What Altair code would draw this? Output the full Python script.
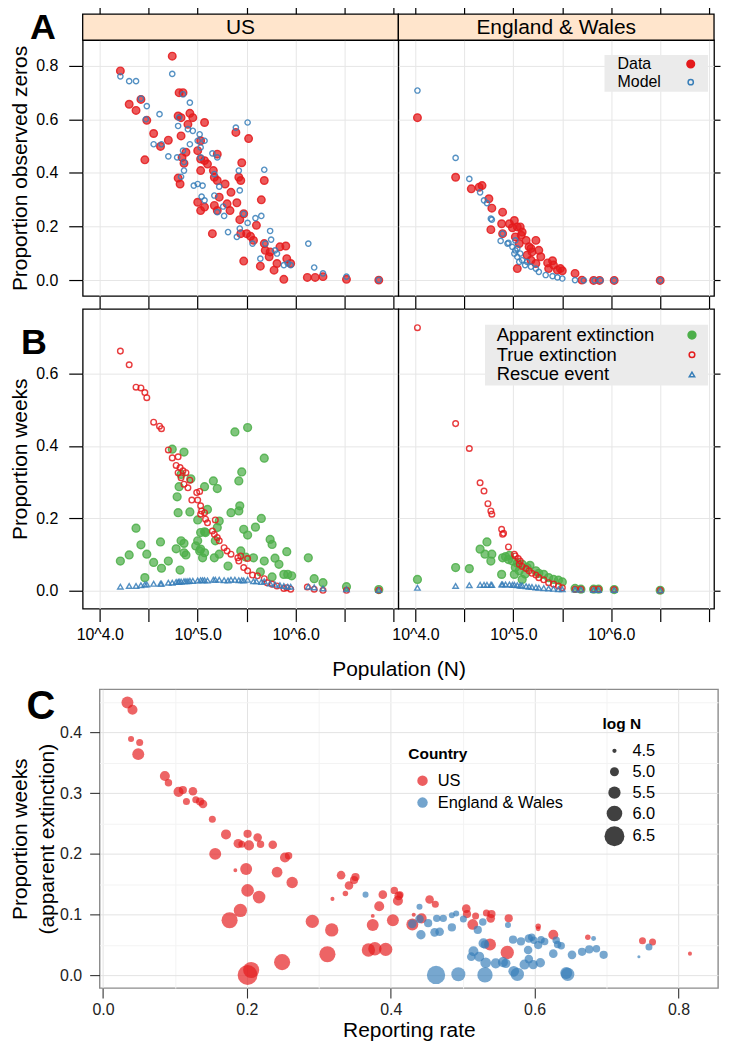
import altair as alt
import pandas as pd

FONT = "Liberation Sans"
RED, BLUE, GREEN = "#E41A1C", "#377EB8", "#4DAF4A"
STRIP_FILL = "#FFE5CC"
GRID = "#E6E6E6"

countries = ["US", "England & Wales"]
series_a = ["Data", "Model"]
series_b = ["Apparent extinction", "True extinction", "Rescue event"]
x_ticks = [4.0, 4.5, 5.0, 5.5, 6.0, 6.5, 7.0]
ya_ticks = [0.0, 0.2, 0.4, 0.6, 0.8]
yb_ticks = [0.0, 0.2, 0.4, 0.6]

# ---------------- Panel A : (log10 N, proportion observed zeros) ----------------
a_us_data = [
    (4.21, 0.780), (4.74, 0.835), (4.30, 0.656), (4.37, 0.633), (4.42, 0.674), (4.48, 0.596), (4.46, 0.449),
    (4.55, 0.547), (4.62, 0.499), (4.70, 0.522), (4.81, 0.699), (4.85, 0.699), (4.80, 0.612), (4.83, 0.606),
    (4.90, 0.581), (4.83, 0.538), (4.88, 0.477), (4.84, 0.458), (4.86, 0.436), (4.80, 0.381), (4.82, 0.359),
    (4.92, 0.622), (4.95, 0.606), (5.07, 0.588), (5.00, 0.483), (5.03, 0.452), (5.03, 0.409), (5.07, 0.446),
    (5.10, 0.433), (5.03, 0.520), (5.00, 0.291), (5.03, 0.260), (5.07, 0.273), (5.16, 0.409), (5.17, 0.384),
    (5.20, 0.372), (5.20, 0.470), (5.22, 0.310), (5.17, 0.279), (5.20, 0.260), (5.28, 0.359), (5.34, 0.328),
    (5.30, 0.285), (5.33, 0.260), (5.15, 0.174), (5.39, 0.551), (5.52, 0.528), (5.45, 0.438), (5.42, 0.384),
    (5.44, 0.372), (5.40, 0.289), (5.43, 0.226), (5.47, 0.248), (5.44, 0.174), (5.50, 0.174), (5.47, 0.072),
    (5.54, 0.164), (5.57, 0.149), (5.60, 0.205), (5.68, 0.372), (5.65, 0.300), (5.68, 0.137), (5.69, 0.112),
    (5.74, 0.106), (5.73, 0.088), (5.81, 0.063), (5.84, 0.125), (5.90, 0.128), (5.91, 0.081), (5.95, 0.063),
    (5.78, 0.038), (5.64, 0.053), (5.88, 0.004), (6.12, 0.011), (6.20, 0.011), (6.28, 0.014), (6.52, 0.004),
    (6.85, 0.001),
]
a_us_model = [
    (4.21, 0.760), (4.30, 0.742), (4.37, 0.742), (4.42, 0.677), (4.48, 0.649), (4.47, 0.600), (4.61, 0.619),
    (4.55, 0.507), (4.63, 0.507), (4.70, 0.462), (4.74, 0.769), (4.79, 0.458), (4.81, 0.606), (4.80, 0.575),
    (4.85, 0.693), (4.86, 0.409), (4.83, 0.386), (4.85, 0.483), (4.86, 0.440), (4.90, 0.563), (4.92, 0.662),
    (4.95, 0.557), (4.92, 0.507), (4.96, 0.353), (5.00, 0.520), (5.02, 0.544), (5.03, 0.495), (5.03, 0.458),
    (5.00, 0.359), (5.05, 0.353), (5.07, 0.520), (5.04, 0.312), (5.07, 0.298), (5.15, 0.473), (5.20, 0.458),
    (5.17, 0.396), (5.22, 0.349), (5.17, 0.316), (5.26, 0.275), (5.20, 0.254), (5.27, 0.240), (5.31, 0.180),
    (5.39, 0.569), (5.51, 0.588), (5.40, 0.162), (5.42, 0.409), (5.43, 0.335), (5.43, 0.193), (5.47, 0.248),
    (5.51, 0.214), (5.56, 0.137), (5.59, 0.232), (5.65, 0.240), (5.68, 0.412), (5.64, 0.081), (5.69, 0.137),
    (5.74, 0.184), (5.75, 0.152), (5.79, 0.112), (5.81, 0.100), (5.88, 0.057), (5.92, 0.063), (5.95, 0.057),
    (6.13, 0.137), (6.19, 0.048), (6.28, 0.026), (6.52, 0.014), (6.85, 0.002),
]
a_ew_data = [
    (4.02, 0.606), (4.41, 0.384), (4.57, 0.341), (4.65, 0.347), (4.68, 0.353), (4.75, 0.304), (4.78, 0.269),
    (4.89, 0.254), (4.77, 0.189), (4.88, 0.211), (5.01, 0.223), (5.04, 0.199), (4.99, 0.196), (5.07, 0.199),
    (4.89, 0.174), (5.02, 0.162), (5.08, 0.168), (5.06, 0.137), (5.16, 0.125), (5.19, 0.106), (5.14, 0.094),
    (5.26, 0.112), (5.18, 0.075), (5.23, 0.063), (5.35, 0.065), (5.40, 0.073), (5.04, 0.044), (5.45, 0.038),
    (5.50, 0.036), (5.63, 0.026), (5.70, 0.001), (5.82, 0.000), (5.88, 0.000), (6.03, 0.000), (6.50, 0.000),
    (5.13, 0.149), (5.23, 0.149), (5.18, 0.119), (5.09, 0.180), (4.96, 0.211), (5.28, 0.088), (5.36, 0.044),
    (5.41, 0.057), (5.48, 0.044),
]
a_ew_model = [
    (4.02, 0.707), (4.41, 0.456), (4.55, 0.378), (4.66, 0.328), (4.70, 0.298), (4.73, 0.288), (4.77, 0.230),
    (4.78, 0.226), (4.89, 0.174), (4.87, 0.147), (4.95, 0.140), (4.94, 0.137), (4.99, 0.125), (5.02, 0.112),
    (5.01, 0.100), (5.04, 0.088), (5.07, 0.100), (5.09, 0.075), (5.14, 0.069), (5.18, 0.051), (5.23, 0.044),
    (5.26, 0.032), (5.33, 0.020), (5.40, 0.016), (5.45, 0.011), (5.50, 0.007), (5.63, 0.001), (5.72, 0.000),
    (5.83, 0.000), (5.89, 0.000), (6.03, 0.000), (6.50, 0.000), (5.02, 0.149), (5.06, 0.069), (5.12, 0.057),
    (5.04, 0.119),
]

# ---------------- Panel B : (log10 N, proportion weeks) ----------------
b_us_apparent = [
    (4.21, 0.081), (4.30, 0.098), (4.37, 0.172), (4.42, 0.126), (4.48, 0.100), (4.46, 0.035), (4.55, 0.077),
    (4.62, 0.134), (4.63, 0.061), (4.70, 0.081), (4.74, 0.391), (4.86, 0.383), (4.83, 0.321), (4.93, 0.309),
    (4.79, 0.259), (4.81, 0.287), (4.80, 0.215), (4.92, 0.217), (4.83, 0.137), (4.86, 0.130), (4.78, 0.115),
    (4.86, 0.104), (4.88, 0.098), (4.82, 0.056), (5.00, 0.137), (4.98, 0.123), (5.02, 0.109), (5.03, 0.114),
    (5.05, 0.090), (5.07, 0.104), (5.07, 0.287), (5.03, 0.160), (5.07, 0.162), (5.00, 0.195), (5.10, 0.224),
    (5.08, 0.160), (5.16, 0.303), (5.20, 0.282), (5.20, 0.174), (5.22, 0.192), (5.18, 0.137), (5.17, 0.090),
    (5.22, 0.100), (5.31, 0.067), (5.34, 0.215), (5.38, 0.439), (5.51, 0.451), (5.42, 0.303), (5.45, 0.328),
    (5.43, 0.234), (5.42, 0.220), (5.47, 0.169), (5.51, 0.153), (5.44, 0.109), (5.49, 0.092), (5.57, 0.090),
    (5.59, 0.175), (5.65, 0.199), (5.68, 0.366), (5.68, 0.081), (5.74, 0.141), (5.76, 0.127), (5.79, 0.089),
    (5.83, 0.072), (5.64, 0.051), (5.76, 0.037), (5.91, 0.107), (5.88, 0.044), (5.92, 0.044), (5.96, 0.040),
    (6.13, 0.090), (6.19, 0.032), (6.28, 0.021), (6.52, 0.010), (6.85, 0.002),
]
b_us_true = [
    (4.21, 0.663), (4.30, 0.625), (4.37, 0.563), (4.42, 0.561), (4.46, 0.548), (4.48, 0.534), (4.55, 0.466),
    (4.61, 0.455), (4.63, 0.448), (4.70, 0.389), (4.74, 0.367), (4.80, 0.370), (4.78, 0.346), (4.82, 0.340),
    (4.80, 0.326), (4.85, 0.331), (4.88, 0.326), (4.83, 0.312), (4.86, 0.294), (4.90, 0.284), (4.92, 0.305),
    (4.99, 0.271), (5.02, 0.274), (4.94, 0.250), (5.00, 0.250), (5.03, 0.234), (5.04, 0.220), (5.07, 0.215),
    (5.03, 0.211), (5.08, 0.197), (5.18, 0.195), (5.10, 0.187), (5.15, 0.164), (5.17, 0.155), (5.20, 0.146),
    (5.22, 0.137), (5.27, 0.118), (5.30, 0.109), (5.34, 0.100), (5.41, 0.090), (5.44, 0.095), (5.51, 0.088),
    (5.42, 0.081), (5.47, 0.063), (5.51, 0.054), (5.56, 0.042), (5.61, 0.040), (5.68, 0.032), (5.71, 0.021),
    (5.76, 0.017), (5.81, 0.012), (5.88, 0.005), (5.91, 0.007), (5.95, 0.003), (6.12, 0.009), (6.19, 0.003),
    (6.28, 0.000), (6.52, 0.000), (6.85, 0.000),
]
b_us_rescue = [
    (4.21, 0.010), (4.30, 0.012), (4.37, 0.012), (4.42, 0.014), (4.46, 0.016), (4.48, 0.016), (4.55, 0.018),
    (4.62, 0.018), (4.63, 0.018), (4.70, 0.021), (4.74, 0.021), (4.78, 0.023), (4.80, 0.023), (4.81, 0.024),
    (4.83, 0.024), (4.86, 0.025), (4.88, 0.025), (4.90, 0.025), (4.92, 0.026), (4.95, 0.026), (5.00, 0.027),
    (5.03, 0.028), (5.05, 0.028), (5.07, 0.028), (5.10, 0.027), (5.16, 0.029), (5.18, 0.029), (5.22, 0.029),
    (5.27, 0.028), (5.31, 0.027), (5.34, 0.029), (5.38, 0.029), (5.42, 0.028), (5.45, 0.028), (5.47, 0.027),
    (5.51, 0.029), (5.57, 0.025), (5.60, 0.025), (5.65, 0.023), (5.68, 0.025), (5.74, 0.019), (5.79, 0.016),
    (5.84, 0.014), (5.88, 0.012), (5.92, 0.010), (5.95, 0.010), (6.13, 0.010), (6.19, 0.008), (6.28, 0.005),
    (6.52, 0.003), (6.85, 0.001),
]
b_ew_apparent = [
    (4.02, 0.030), (4.41, 0.063), (4.55, 0.060), (4.66, 0.114), (4.73, 0.134), (4.71, 0.100), (4.77, 0.081),
    (4.78, 0.100), (4.88, 0.044), (4.89, 0.090), (4.92, 0.093), (4.96, 0.097), (4.99, 0.081), (5.02, 0.063),
    (5.06, 0.054), (5.09, 0.072), (5.14, 0.063), (5.17, 0.069), (5.23, 0.054), (5.26, 0.047), (5.31, 0.044),
    (5.36, 0.035), (5.41, 0.030), (5.46, 0.028), (5.50, 0.023), (5.01, 0.044), (5.09, 0.030), (5.63, 0.005),
    (5.69, 0.003), (5.82, 0.003), (5.87, 0.003), (6.03, 0.002), (6.50, 0.000), (4.95, 0.085), (5.04, 0.075),
    (5.12, 0.045),
]
b_ew_true = [
    (4.02, 0.728), (4.41, 0.462), (4.55, 0.393), (4.66, 0.298), (4.70, 0.275), (4.74, 0.240), (4.77, 0.220),
    (4.78, 0.211), (4.88, 0.169), (4.89, 0.155), (4.90, 0.158), (4.95, 0.120), (5.01, 0.100), (5.02, 0.095),
    (5.05, 0.088), (5.07, 0.081), (5.06, 0.072), (5.09, 0.066), (5.13, 0.060), (5.16, 0.054), (5.19, 0.047),
    (5.23, 0.042), (5.26, 0.035), (5.31, 0.029), (5.36, 0.021), (5.41, 0.017), (5.46, 0.012), (5.50, 0.007),
    (5.63, 0.003), (5.69, 0.003), (5.82, 0.003), (5.87, 0.003), (6.03, 0.002), (6.50, 0.000),
]
b_ew_rescue = [
    (4.02, 0.007), (4.41, 0.012), (4.55, 0.014), (4.66, 0.015), (4.70, 0.015), (4.73, 0.015), (4.77, 0.015),
    (4.78, 0.015), (4.88, 0.016), (4.89, 0.016), (4.92, 0.016), (4.96, 0.016), (4.99, 0.015), (5.01, 0.015),
    (5.04, 0.014), (5.07, 0.013), (5.09, 0.013), (5.13, 0.011), (5.16, 0.010), (5.19, 0.009), (5.23, 0.008),
    (5.26, 0.007), (5.31, 0.006), (5.36, 0.005), (5.41, 0.004), (5.46, 0.003), (5.50, 0.003), (5.63, 0.002),
    (5.69, 0.002), (5.82, 0.001), (5.87, 0.001), (6.03, 0.001), (6.50, 0.000),
]

# ---------------- Panel C : (reporting rate, proportion weeks apparent extinction, log N) ----------------
c_us = [
    (0.034, 0.449, 5.45), (0.041, 0.437, 5.15), (0.039, 0.389, 4.65), (0.051, 0.383, 4.75), (0.049, 0.364, 5.45),
    (0.086, 0.328, 5.15), (0.091, 0.317, 4.80), (0.105, 0.302, 5.15), (0.111, 0.305, 4.90), (0.125, 0.303, 4.95),
    (0.116, 0.286, 4.75), (0.129, 0.289, 4.75), (0.135, 0.286, 4.90), (0.139, 0.282, 4.95), (0.152, 0.257, 4.75),
    (0.171, 0.232, 5.15), (0.156, 0.200, 5.45), (0.188, 0.217, 5.05), (0.193, 0.216, 4.75), (0.201, 0.233, 4.90),
    (0.203, 0.214, 5.15), (0.215, 0.227, 4.95), (0.219, 0.216, 4.80), (0.236, 0.215, 4.95), (0.253, 0.194, 5.15),
    (0.258, 0.197, 4.80), (0.184, 0.173, 4.40), (0.199, 0.175, 5.45), (0.242, 0.170, 5.25), (0.263, 0.153, 5.35),
    (0.201, 0.140, 5.55), (0.217, 0.129, 5.55), (0.191, 0.107, 5.65), (0.176, 0.091, 6.05), (0.201, 0.001, 6.50),
    (0.206, 0.009, 6.05), (0.249, 0.022, 6.05), (0.291, 0.089, 5.65), (0.318, 0.075, 5.65), (0.312, 0.035, 6.05),
    (0.331, 0.165, 4.95), (0.342, 0.148, 4.95), (0.349, 0.157, 4.90), (0.351, 0.162, 4.90), (0.319, 0.126, 4.45),
    (0.337, 0.135, 4.60), (0.375, 0.098, 4.40), (0.384, 0.114, 5.15), (0.375, 0.083, 5.45), (0.389, 0.133, 4.95),
    (0.369, 0.042, 5.65), (0.378, 0.044, 5.65), (0.393, 0.043, 5.65), (0.403, 0.091, 5.45), (0.405, 0.140, 4.80),
    (0.411, 0.131, 4.95), (0.413, 0.133, 4.75), (0.410, 0.123, 5.15), (0.454, 0.125, 4.95), (0.462, 0.117, 4.75),
    (0.432, 0.100, 4.45), (0.443, 0.094, 5.15), (0.430, 0.084, 5.45), (0.505, 0.110, 4.95), (0.506, 0.101, 4.90),
    (0.518, 0.098, 4.75), (0.514, 0.084, 5.25), (0.533, 0.103, 4.75), (0.540, 0.101, 4.90), (0.539, 0.094, 4.95),
    (0.564, 0.094, 4.90), (0.538, 0.051, 5.45), (0.562, 0.038, 5.65), (0.605, 0.081, 4.60), (0.605, 0.077, 4.55),
    (0.626, 0.067, 5.15), (0.674, 0.063, 4.60), (0.750, 0.057, 4.75), (0.764, 0.055, 4.75), (0.816, 0.036, 4.45),
]
c_ew = [
    (0.365, 0.133, 4.65), (0.440, 0.113, 4.65), (0.430, 0.085, 4.95), (0.440, 0.093, 4.95), (0.452, 0.086, 4.90),
    (0.442, 0.067, 5.05), (0.464, 0.094, 4.80), (0.473, 0.094, 4.80), (0.485, 0.099, 4.65), (0.491, 0.102, 4.65),
    (0.501, 0.093, 4.75), (0.485, 0.079, 4.90), (0.461, 0.071, 4.95), (0.468, 0.072, 4.95), (0.521, 0.075, 4.90),
    (0.528, 0.088, 4.80), (0.563, 0.083, 4.65), (0.529, 0.053, 5.15), (0.531, 0.051, 4.95), (0.515, 0.040, 5.15),
    (0.512, 0.031, 4.95), (0.523, 0.031, 5.15), (0.532, 0.021, 5.25), (0.546, 0.020, 5.15), (0.556, 0.022, 5.15),
    (0.560, 0.020, 5.05), (0.570, 0.059, 4.90), (0.581, 0.056, 4.90), (0.592, 0.061, 4.95), (0.596, 0.063, 4.80),
    (0.599, 0.058, 4.80), (0.609, 0.059, 4.80), (0.605, 0.050, 4.90), (0.614, 0.056, 4.80), (0.591, 0.042, 4.95),
    (0.592, 0.027, 4.95), (0.586, 0.018, 5.15), (0.598, 0.018, 5.05), (0.608, 0.021, 5.05), (0.571, 0.007, 5.25),
    (0.576, 0.002, 5.65), (0.626, 0.036, 4.95), (0.630, 0.058, 4.80), (0.632, 0.051, 4.80), (0.637, 0.049, 4.80),
    (0.646, 0.002, 5.65), (0.644, 0.004, 5.45), (0.652, 0.034, 4.95), (0.666, 0.039, 4.90), (0.676, 0.043, 4.90),
    (0.686, 0.044, 4.80), (0.696, 0.034, 4.90), (0.682, 0.061, 4.55), (0.745, 0.031, 4.20), (0.759, 0.047, 4.75),
    (0.463, 0.001, 6.30), (0.494, 0.002, 5.75), (0.531, 0.001, 5.95),
]
size_legend_values = [4.5, 5.0, 5.5, 6.0, 6.5]


def frame(groups):
    rows = []
    for name, pairs in groups:
        for x, y in pairs:
            rows.append({"series": name, "fill_key": name, "logN": x, "val": y})
    return pd.DataFrame(rows)


W = 317
HS, HA, HB = 26, 257, 301
XDOM = [3.825, 7.05]
A_YDOM = [-0.058, 0.895]
B_YDOM = [-0.051, 0.78]
xscale = alt.Scale(domain=XDOM, nice=False, zero=False)
INDEP = dict(stroke="independent", fill="independent", size="independent", shape="independent",
             color="independent")


def x_axis(row):
    common = dict(orient="bottom", values=x_ticks, grid=True, gridColor=GRID, gridWidth=1,
                  domain=False, tickColor="black", tickWidth=1.2, tickSize=13, title=None)
    if row == "A":
        return alt.Axis(labels=False, **common)
    return alt.Axis(labelExpr="datum.value == 4 || datum.value == 5 || datum.value == 6 ? '10^' + format(datum.value, '.1f') : ''",
                    labelFontSize=16, labelColor="black", labelPadding=5, labelFont=FONT, labelFlush=False, **common)


def y_axis(side, ticks, title):
    common = dict(values=ticks, grid=True, gridColor=GRID, gridWidth=1, domain=False,
                  tickColor="black", tickWidth=1.2)
    if side == "US":
        return alt.Axis(orient="left", format=".1f", labelFontSize=16, labelColor="black", labelPadding=11,
                        tickSize=14, title=title, titleFontSize=21, titleFontWeight="normal", titleColor="black",
                        titlePadding=5, **common)
    return alt.Axis(orient="right", labels=False, title=None, tickSize=6, **common)


def letter_layer(letter, x, y, size):
    return alt.Chart(pd.DataFrame({"letter": [letter]})).mark_text(
        fontSize=size, fontWeight="bold", font=FONT, align="center", baseline="top", color="black"
    ).encode(x=alt.value(x), y=alt.value(y), text="letter:N")


def lattice_panel(df, side, row, domain, strokes, fills, sizes, shapes, legend, country, letter=None):
    ydom = A_YDOM if row == "A" else B_YDOM
    yt = ya_ticks if row == "A" else yb_ticks
    ytitle = "Proportion observed zeros" if row == "A" else "Proportion weeks"
    h = HA if row == "A" else HB
    pts = alt.Chart(df).mark_point(strokeWidth=1.4, fillOpacity=0.72, strokeOpacity=0.85).encode(
        x=alt.X("logN:Q", scale=xscale, axis=x_axis(row)),
        y=alt.Y("val:Q", scale=alt.Scale(domain=ydom, nice=False, zero=False), axis=y_axis(side, yt, ytitle)),
        stroke=alt.Stroke("series:N", scale=alt.Scale(domain=domain, range=strokes), legend=legend),
        fill=alt.Fill("fill_key:N", scale=alt.Scale(domain=domain, range=fills), legend=None),
        size=alt.Size("series:N", scale=alt.Scale(type="ordinal", domain=domain, range=sizes), legend=legend),
        shape=alt.Shape("series:N", scale=alt.Scale(domain=domain, range=shapes), legend=legend),
    )
    layers = [pts]
    if row == "A":
        # strip with the country name above the panel, and the panel's top ticks above the strip
        sdf = pd.DataFrame({"country": [country]})
        layers.append(alt.Chart(sdf).mark_rect(fill=STRIP_FILL, stroke="black", strokeWidth=1.3).encode(
            x=alt.value(0), x2=alt.value(W), y=alt.value(-HS), y2=alt.value(0)))
        layers.append(alt.Chart(sdf).mark_text(fontSize=21, font=FONT, color="black", baseline="middle",
                                               align="center").encode(
            x=alt.value(W / 2), y=alt.value(-HS / 2 + 1), text="country:N"))
        layers.append(alt.Chart(pd.DataFrame({"t": x_ticks})).mark_point(opacity=0).encode(
            x=alt.X("t:Q", scale=xscale,
                    axis=alt.Axis(orient="top", values=x_ticks, labels=False, tickSize=8, offset=HS,
                                  domain=False, grid=False, title=None, tickColor="black", tickWidth=1.2))))
    if letter == "A":
        layers.append(letter_layer("A", -40, -HS - 3, 36))
    elif letter == "B":
        layers.append(letter_layer("B", -49, 17, 36))
    ch = alt.layer(*layers)
    if row == "A":
        ch = ch.resolve_axis(x="independent")
    return ch.properties(width=W, height=h, view=alt.ViewBackground(fill="white", stroke="black", strokeWidth=1.3))


legend_a = alt.Legend(title=" ", titleOrient="right", titleFontSize=1, titlePadding=10,
                      orient="none", legendX=207, legendY=15, fillColor="#EBEBEB", padding=1,
                      labelFontSize=16, labelColor="black", labelFont=FONT, symbolOffset=77.6,
                      labelOffset={"expr": "-81.5"}, symbolFillColor="transparent",
                      rowPadding=2.3, symbolStrokeWidth=1.5)
legend_b = alt.Legend(title=" ", titleOrient="right", titleFontSize=1, titlePadding=8,
                      orient="none", legendX=87, legendY=16, fillColor="#EBEBEB", padding=1,
                      labelFontSize=18.5, labelColor="black", labelFont=FONT, symbolOffset=197.6,
                      labelOffset={"expr": "-205.4"}, symbolFillColor="transparent",
                      rowPadding=0.8, symbolStrokeWidth=1.5)

a_strokes, a_fills, a_sizes, a_shapes = [RED, BLUE], [RED, "transparent"], [58, 28], ["circle", "circle"]
b_strokes = [GREEN, RED, BLUE]
b_fills = [GREEN, "transparent", "transparent"]
b_sizes = [62, 32, 30]
b_shapes = ["circle", "circle", "triangle-up"]

a_us = lattice_panel(frame([("Data", a_us_data), ("Model", a_us_model)]), "US", "A",
                     series_a, a_strokes, a_fills, a_sizes, a_shapes, None, countries[0], letter="A")
a_ew = lattice_panel(frame([("Data", a_ew_data), ("Model", a_ew_model)]), "EW", "A",
                     series_a, a_strokes, a_fills, a_sizes, a_shapes, legend_a, countries[1])
b_us = lattice_panel(frame([("Apparent extinction", b_us_apparent), ("True extinction", b_us_true),
                            ("Rescue event", b_us_rescue)]), "US", "B",
                     series_b, b_strokes, b_fills, b_sizes, b_shapes, None, countries[0], letter="B")
b_ew = lattice_panel(frame([("Apparent extinction", b_ew_apparent), ("True extinction", b_ew_true),
                            ("Rescue event", b_ew_rescue)]), "EW", "B",
                     series_b, b_strokes, b_fills, b_sizes, b_shapes, legend_b, countries[1])

top = alt.concat(
    a_us, a_ew, b_us, b_ew, columns=2, bounds="flush", spacing={"row": 13, "column": 0},
    title=alt.TitleParams("Population (N)", orient="bottom", anchor="middle", fontSize=21,
                          fontWeight="normal", color="black", font=FONT, offset=16, dx=34),
).resolve_scale(**INDEP)

# ---------------- Panel C ----------------
c_rows = [{"country": countries[0], "rate": r, "prop": p, "logN": n} for r, p, n in c_us]
c_rows += [{"country": countries[1], "rate": r, "prop": p, "logN": n} for r, p, n in c_ew]
c_df = pd.DataFrame(c_rows)

cx_vals = [0.0, 0.1, 0.2, 0.3, 0.4, 0.5, 0.6, 0.7, 0.8]
cy_vals = [0.0, 0.05, 0.1, 0.15, 0.2, 0.25, 0.3, 0.35, 0.4, 0.45]
major_x = "round(datum.value * 10) % 2 == 0"
major_y = "round(datum.value * 20) % 2 == 0"

c_points = alt.Chart(c_df).mark_circle(opacity=0.68).encode(
    x=alt.X("rate:Q", scale=alt.Scale(domain=[-0.0047, 0.855], nice=False, zero=False),
            axis=alt.Axis(values=cx_vals, labelExpr=f"{major_x} ? format(datum.value, '.1f') : ''",
                          gridColor={"condition": {"test": major_x, "value": "#E3E3E3"}, "value": "#F3F3F3"},
                          tickOpacity={"condition": {"test": major_x, "value": 1}, "value": 0},
                          tickSize=10, tickColor="#333333", tickWidth=1.1, domain=False,
                          labelFontSize=16, labelColor="#222222", labelPadding=4, labelFlush=False,
                          title="Reporting rate", titleFontSize=21, titleFontWeight="normal",
                          titleColor="black", titlePadding=2)),
    y=alt.Y("prop:Q", scale=alt.Scale(domain=[-0.0206, 0.4706], nice=False, zero=False),
            axis=alt.Axis(values=cy_vals, labelExpr=f"{major_y} ? format(datum.value, '.1f') : ''",
                          gridColor={"condition": {"test": major_y, "value": "#E3E3E3"}, "value": "#F3F3F3"},
                          tickOpacity={"condition": {"test": major_y, "value": 1}, "value": 0},
                          tickSize=10, tickColor="#333333", tickWidth=1.1, domain=False,
                          labelFontSize=16, labelColor="#222222", labelPadding=8,
                          title=["Proportion weeks", "(apparent extinction)"], titleFontSize=21,
                          titleFontWeight="normal", titleColor="black", titlePadding=2.5, titleLineHeight=27)),
    color=alt.Color("country:N", scale=alt.Scale(domain=countries, range=[RED, BLUE]),
                    legend=alt.Legend(title="Country", orient="none", legendX=310, legendY=58, padding=0,
                                      titleFontSize=15.5, titleFontWeight="bold", titleColor="black",
                                      titlePadding=10, labelFontSize=16.5, labelColor="black",
                                      symbolSize=110, symbolOpacity=0.7, symbolType="circle",
                                      symbolStrokeWidth=0, symbolOffset=6, labelOffset=7, rowPadding=5)),
    size=alt.Size("logN:Q", scale=alt.Scale(domain=[4.0, 4.5, 5.0, 5.5, 6.0, 6.5, 7.0],
                                            range=[4, 18, 81, 151, 246, 400, 560]),
                  legend=alt.Legend(title="log N", orient="none", legendX=505, legendY=28, padding=0,
                                    values=size_legend_values, format=".1f",
                                    titleFontSize=15.5, titleFontWeight="bold", titleColor="black",
                                    titlePadding=10, labelFontSize=16.5, labelColor="black",
                                    symbolFillColor="#404040", symbolStrokeWidth=0, symbolOpacity=1,
                                    symbolType="circle", symbolOffset=2, labelOffset=8, rowPadding=4)),
)
c_chart = alt.layer(c_points, letter_layer("C", -59, -2, 40)).properties(
    width=621, height=300, view=alt.ViewBackground(fill="white", stroke="#8C8C8C", strokeWidth=1.4))

# an empty 17px spacer keeps panel C's frame offset from the upper panels, as in the figure
spacer = alt.Chart(pd.DataFrame({"s": [0]})).mark_point(opacity=0).encode(
    x=alt.value(0), y=alt.value(0)).properties(
    width=17, height=10, view=alt.ViewBackground(fillOpacity=0, strokeOpacity=0))
c_group = alt.hconcat(spacer, c_chart, spacing=0, bounds="flush").resolve_scale(**INDEP)

chart = alt.concat(top, c_group, columns=1, spacing=6).resolve_scale(**INDEP).properties(
    padding={"left": 0, "top": -6, "right": 0, "bottom": 0}).configure(font=FONT)

chart.save("out.html", embed_options={"renderer": "svg", "actions": False})
